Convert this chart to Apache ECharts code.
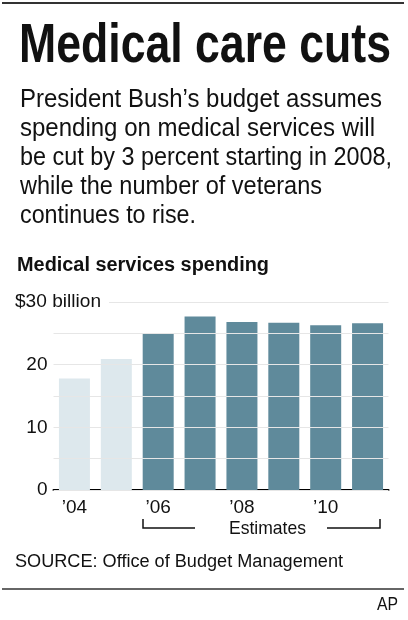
<!DOCTYPE html>
<html>
<head>
<meta charset="utf-8" />
<title>Medical care cuts</title>
<script src="https://cdn.jsdelivr.net/npm/echarts@6/dist/echarts.min.js"></script>
<style>
  * { margin: 0; padding: 0; }
  html, body { width: 408px; height: 620px; background: #fff; }
  #main { width: 408px; height: 620px; }
</style>
</head>
<body>
<div id="main"></div>
<script>
  // data
  var years = ['04', '05', '06', '07', '08', '09', '10', '11'];
  var spending = [17.8, 20.9, 24.9, 27.7, 26.8, 26.7, 26.3, 26.6];
  var isEstimate = [false, false, true, true, true, true, true, true];
  var yTicks = [0, 10, 20];

  var fam = '"Liberation Sans", Arial, sans-serif';
  var chart = echarts.init(document.getElementById('main'));

  // squeeze text horizontally to mimic the condensed news face
  var ctx = document.createElement('canvas').getContext('2d');
  function squeezed(str, x, y, size, weight, width) {
    var font = weight + ' ' + size + 'px ' + fam;
    ctx.font = font;
    var w = ctx.measureText(str).width;
    return {
      type: 'text', x: x, y: y, scaleX: width / w, z: 10,
      style: { text: str, font: font, fill: '#111', textVerticalAlign: 'middle' }
    };
  }

  var bodyLines = [
    ['President Bush\u2019s budget assumes', 362],
    ['spending on medical services will', 355],
    ['be cut by 3 percent starting in 2008,', 372],
    ['while the number of veterans', 302],
    ['continues to rise.', 176]
  ];

  var texts = [
    squeezed('Medical care cuts', 19, 47, 56, 'bold', 372),
    squeezed('Medical services spending', 17, 265, 20, 'bold', 252),
    squeezed('SOURCE: Office of Budget Management', 15, 562, 18, 'normal', 328),
    squeezed('AP', 377, 605, 18, 'normal', 21),
    squeezed('Estimates', 229, 529, 19, 'normal', 77)
  ];
  bodyLines.forEach(function (l, i) {
    texts.push(squeezed(l[0], 20, 100 + i * 29, 25, 'normal', l[1]));
  });
  var lbl = squeezed('$30 billion', 15, 302, 19, 'normal', 86);
  lbl.style.backgroundColor = '#fff';
  lbl.style.padding = [0, 8, 0, 0];
  texts.push(lbl);

  var option = {
    animation: false,
    grid: { left: 53.5, right: 19.5, top: 302, bottom: 130 },
    xAxis: {
      type: 'category',
      data: years,
      axisLine: { lineStyle: { color: '#000', width: 2 } },
      axisTick: { show: false },
      axisLabel: {
        interval: 0,
        margin: 8,
        fontFamily: fam, fontSize: 19, color: '#111',
        formatter: function (v, i) { return i % 2 === 0 ? '\u2019' + v : ''; }
      }
    },
    yAxis: {
      type: 'value',
      min: 0, max: 30, interval: 5,
      z: 5,
      axisLine: { show: false },
      axisTick: { show: false },
      splitLine: { lineStyle: { color: '#e6e6e6', width: 1 } },
      axisLabel: {
        fontFamily: fam, fontSize: 19, color: '#111', margin: 6,
        formatter: function (v) { return yTicks.indexOf(v) >= 0 ? String(v) : ''; }
      }
    },
    series: [{
      type: 'bar',
      barWidth: 31,
      z: 2,
      data: spending.map(function (v, i) {
        return { value: v, itemStyle: { color: isEstimate[i] ? '#5f8a9b' : '#dde8ed' } };
      })
    }],
    graphic: [
      { type: 'line', shape: { x1: 2, y1: 3, x2: 404, y2: 3 }, style: { stroke: '#333', lineWidth: 2 } },
      { type: 'line', shape: { x1: 2, y1: 589, x2: 404, y2: 589 }, style: { stroke: '#333', lineWidth: 1.5 } },
      { type: 'polyline', shape: { points: [[143, 519], [143, 528], [195, 528]] }, style: { stroke: '#111', lineWidth: 1.5, fill: null } },
      { type: 'polyline', shape: { points: [[327, 528], [380, 528], [380, 519]] }, style: { stroke: '#111', lineWidth: 1.5, fill: null } }
    ].concat(texts)
  };
  chart.setOption(option);
</script>
</body>
</html>
